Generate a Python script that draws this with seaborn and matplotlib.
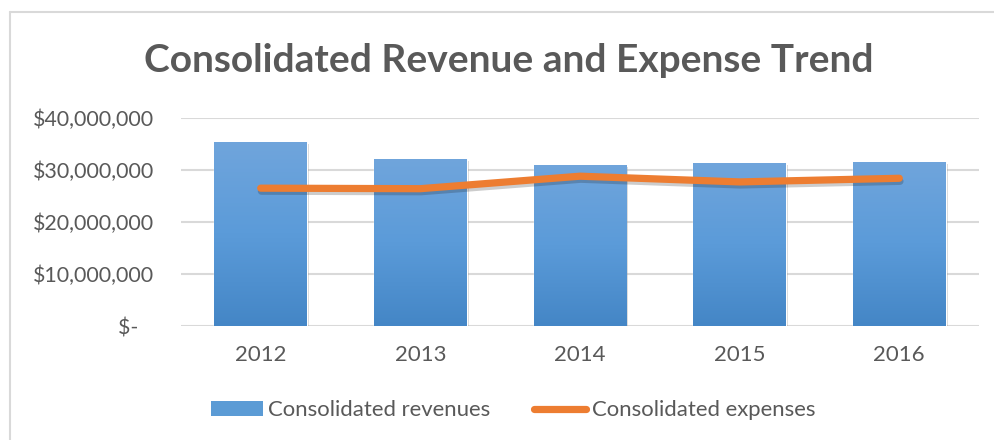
import numpy as np
import pandas as pd
import matplotlib
matplotlib.use("Agg")
import matplotlib.pyplot as plt
import matplotlib.patheffects as pe
from matplotlib.lines import Line2D
from matplotlib.patches import Patch
from matplotlib.ticker import FuncFormatter
from matplotlib.colors import LinearSegmentedColormap
import seaborn as sns

# ---- data ----
years = ["2012", "2013", "2014", "2015", "2016"]
revenues = [35.4e6, 32.2e6, 31.0e6, 31.4e6, 31.6e6]
expenses = [26.5e6, 26.4e6, 28.8e6, 27.7e6, 28.4e6]
title = "Consolidated Revenue and Expense Trend"
rev_label = "Consolidated revenues"
exp_label = "Consolidated expenses"

df = pd.DataFrame({"year": years, "revenue": revenues, "expense": expenses})

sns.set_theme(style="white")
plt.rcParams["font.family"] = ["Lato", "DejaVu Sans"]

TXT = "#595959"
GRID = "#D9D9D9"
BLUE = "#5B9BD5"
ORANGE = "#ED7D31"

fig = plt.figure(figsize=(9.94, 4.40), dpi=100)
ax = fig.add_axes([0.182, 0.259, 0.985 - 0.182, 0.732 - 0.259])

sns.barplot(data=df, x="year", y="revenue", color=BLUE, width=0.58,
            saturation=1, ax=ax, zorder=2)

# gradient fill + soft shadow for bars
grad = np.linspace(0, 1, 256).reshape(-1, 1)
cmap = LinearSegmentedColormap.from_list("g", ["#4486C6", "#5B9BD9", "#70A5DC"])
for p in list(ax.patches):
    p.set_path_effects([pe.SimplePatchShadow(offset=(1.5, -1.5), shadow_rgbFace="k", alpha=0.18),
                        pe.Normal()])
    x0, y0 = p.get_x(), p.get_y()
    w, h = p.get_width(), p.get_height()
    im = ax.imshow(grad, extent=[x0, x0 + w, y0, y0 + h], origin="lower",
                   cmap=cmap, aspect="auto", zorder=2.5)
    im.set_clip_path(p)

sns.lineplot(data=df, x="year", y="expense", color=ORANGE, linewidth=5.2,
             ax=ax, zorder=4, sort=False,
             path_effects=[pe.SimpleLineShadow(offset=(0.5, -2.2), shadow_color="k", alpha=0.22),
                           pe.Normal()])
for l in ax.lines:
    l.set_solid_capstyle("round")
    l.set_solid_joinstyle("round")

ax.set_xlim(-0.5, len(years) - 0.5)
ax.set_ylim(0, 40e6)
ax.set_yticks([0, 10e6, 20e6, 30e6, 40e6])

def fmt(v, pos):
    if v == 0:
        return "$-   "
    return "${:,.0f}".format(v)

ax.yaxis.set_major_formatter(FuncFormatter(fmt))
ax.grid(axis="y", color=GRID, linewidth=1.5, zorder=0)
ax.set_axisbelow(True)
for s in ax.spines.values():
    s.set_visible(False)
ax.set_xlabel("")
ax.set_ylabel("")
ax.tick_params(axis="y", length=0, pad=19, labelsize=15.4, labelcolor=TXT)
ax.tick_params(axis="x", length=0, pad=14, labelsize=16, labelcolor=TXT)
if ax.get_legend():
    ax.get_legend().remove()

fig.text(0.512, 0.862, title, ha="center", va="center", fontsize=28,
         fontweight="bold", color=TXT)

handles = [Patch(facecolor=BLUE, edgecolor="none"),
           Line2D([0], [0], color=ORANGE, linewidth=5.2, solid_capstyle="round")]
fig.legend(handles, [rev_label, exp_label], loc="center", bbox_to_anchor=(0.516, 0.068),
           ncol=2, frameon=False, fontsize=15.9, handlelength=2.36, handleheight=0.64,
           handletextpad=0.23, columnspacing=2.0, labelcolor=TXT)

# chart border
fig.add_artist(Line2D([9.5 / 994, 9.5 / 994], [0, 1 - 12.5 / 440], color=GRID,
                      linewidth=1.5, transform=fig.transFigure))
fig.add_artist(Line2D([9.5 / 994, 1], [1 - 12.5 / 440, 1 - 12.5 / 440], color=GRID,
                      linewidth=1.5, transform=fig.transFigure))

fig.savefig("out.png", dpi=100)
